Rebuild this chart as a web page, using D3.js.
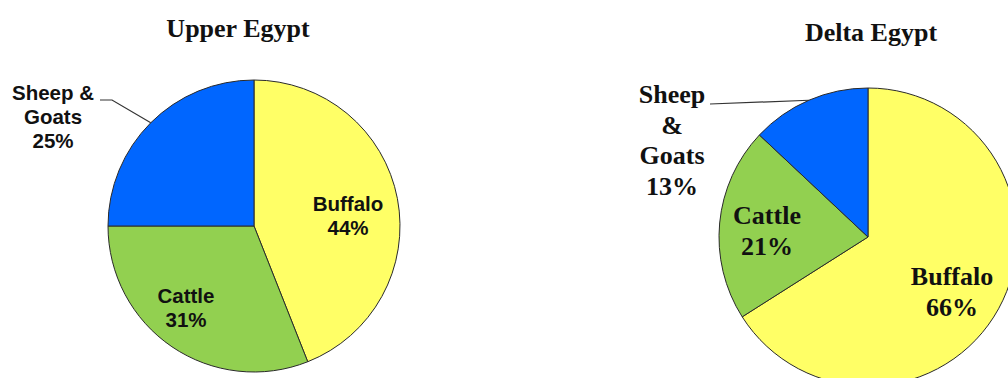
<!DOCTYPE html>
<html>
<head>
<meta charset="utf-8">
<script src="https://cdn.jsdelivr.net/npm/d3@7"></script>
<style>
  html, body { margin: 0; padding: 0; background: #fff; overflow: hidden; }
  svg { display: block; }
</style>
</head>
<body>
<svg id="chart" width="1008" height="378"></svg>
<script>
// Livestock composition by region (percent of herd)
const categories = ["Buffalo", "Cattle", "Sheep & Goats"];
const upperEgypt = [44, 31, 25];
const deltaEgypt = [66, 21, 13];
const titles = ["Upper Egypt", "Delta Egypt"];

const colors = d3.scaleOrdinal()
  .domain(categories)
  .range(["#FFFF66", "#92D050", "#0066FF"]);

const svg = d3.select("#chart");

const pie = d3.pie().sort(null).value(d => d.value);

// Per-chart layout: centre, radius, fonts and label placement (offsets from centre)
const charts = [
  {
    title: titles[0], values: upperEgypt,
    cx: 254, cy: 226, r: 146,
    titleX: 238, titleY: 37,
    font: "'Liberation Sans', Arial, sans-serif", size: 20.5, lh: 24,
    labels: {
      "Buffalo": { x: 94, y: -15, lines: ["Buffalo", "{v}%"] },
      "Cattle": { x: -68, y: 77, lines: ["Cattle", "{v}%"] },
      "Sheep & Goats": { x: -201, y: -126, lines: ["Sheep &", "Goats", "{v}%"],
        leader: [[100 - 254, 100 - 226], [112 - 254, 100 - 226]] }
    }
  },
  {
    title: titles[1], values: deltaEgypt,
    cx: 868, cy: 237, r: 149,
    titleX: 871, titleY: 41,
    font: "'Liberation Serif', 'Times New Roman', serif", size: 26, lh: 30.5,
    labels: {
      "Buffalo": { x: 84, y: 48, lines: ["Buffalo", "{v}%"] },
      "Cattle": { x: -101, y: -13, lines: ["Cattle", "{v}%"] },
      "Sheep & Goats": { x: -196, y: -134, lines: ["Sheep", "&", "Goats", "{v}%"],
        leader: [[710 - 868, 104 - 237]] }
    }
  }
];

charts.forEach(c => {
  const data = categories.map((k, i) => ({ key: k, value: c.values[i] }));
  const arcs = pie(data);
  const arc = d3.arc().innerRadius(0).outerRadius(c.r);

  // Title
  svg.append("text")
    .attr("x", c.titleX).attr("y", c.titleY)
    .attr("text-anchor", "middle")
    .style("font-family", "'Liberation Serif', 'Times New Roman', serif")
    .style("font-weight", "bold")
    .style("font-size", "26px")
    .style("fill", "#111")
    .text(c.title);

  const g = svg.append("g").attr("transform", `translate(${c.cx},${c.cy})`);

  g.selectAll("path.slice")
    .data(arcs)
    .join("path")
    .attr("class", "slice")
    .attr("d", arc)
    .attr("fill", d => colors(d.data.key))
    .attr("stroke", "#2a2a2a")
    .attr("stroke-width", 1);

  // Leader lines from the outer edge of a slice to its label
  arcs.forEach(a => {
    const spec = c.labels[a.data.key];
    if (!spec.leader) return;
    const mid = (a.startAngle + a.endAngle) / 2;
    const edge = [Math.sin(mid) * c.r, -Math.cos(mid) * c.r];
    const pts = spec.leader.concat([edge]);
    g.append("path")
      .attr("d", d3.line()(pts))
      .attr("fill", "none")
      .attr("stroke", "#333")
      .attr("stroke-width", 1.2);
  });

  // Category labels with percentages
  arcs.forEach(a => {
    const spec = c.labels[a.data.key];
    const t = g.append("text")
      .attr("text-anchor", "middle")
      .style("font-family", c.font)
      .style("font-weight", "bold")
      .style("font-size", c.size + "px")
      .style("fill", "#111");
    spec.lines.forEach((ln, i) => {
      t.append("tspan")
        .attr("x", spec.x)
        .attr("y", spec.y + i * c.lh)
        .text(ln.replace("{v}", a.data.value));
    });
  });
});
</script>
</body>
</html>
